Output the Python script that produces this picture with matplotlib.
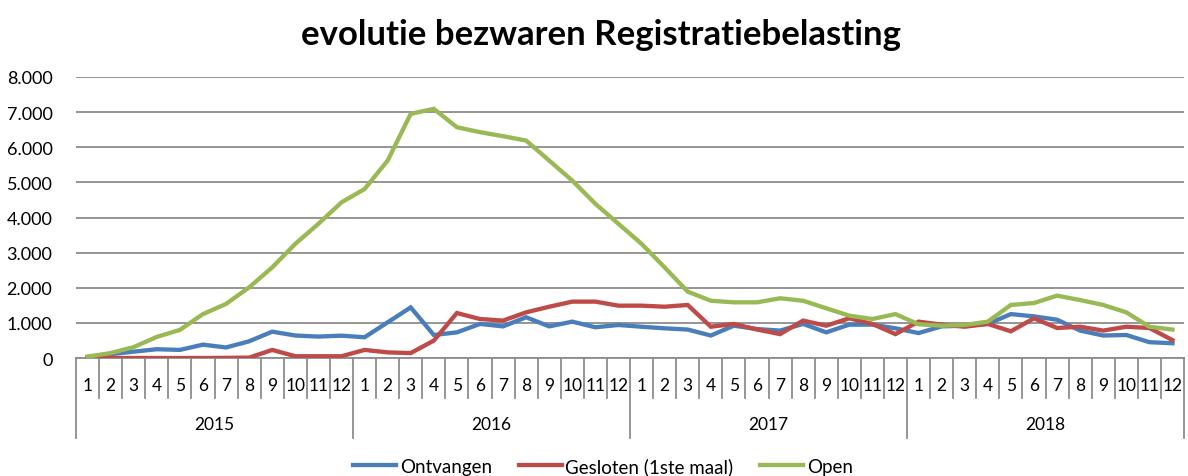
import matplotlib
matplotlib.use("Agg")
import matplotlib.pyplot as plt
import matplotlib.transforms as mtransforms
from matplotlib.ticker import FuncFormatter, MultipleLocator

plt.rcParams['font.family'] = ['Lato', 'DejaVu Sans']

years = ["2015", "2016", "2017", "2018"]
months = [str(m) for m in range(1, 13)]

ontvangen = [20, 110, 180, 250, 230, 380, 300, 475, 750, 640, 610, 636,
             590, 1015, 1440, 655, 730, 970, 900, 1160, 900, 1035, 875, 940,
             890, 845, 810, 640, 920, 825, 780, 970, 730, 950, 950, 845,
             710, 900, 920, 970, 1250, 1185, 1090, 780, 640, 655, 450, 420]
gesloten = [0, 0, 0, 0, 0, 0, 5, 10, 230, 50, 50, 50,
            230, 160, 140, 495, 1280, 1110, 1065, 1300, 1460, 1605, 1605, 1490,
            1490, 1460, 1510, 890, 970, 810, 680, 1065, 920, 1130, 970, 680,
            1035, 950, 890, 970, 760, 1130, 855, 890, 780, 890, 855, 510]
open_ = [40, 140, 310, 600, 800, 1250, 1540, 2010, 2580, 3250, 3820, 4430,
         4810, 5620, 6950, 7094, 6570, 6430, 6315, 6190, 5620, 5050, 4390, 3820,
         3250, 2580, 1890, 1630, 1585, 1585, 1700, 1630, 1415, 1205, 1110, 1250,
         960, 920, 940, 1035, 1510, 1565, 1775, 1650, 1510, 1300, 890, 810]

series_names = ["Ontvangen", "Gesloten (1ste maal)", "Open"]
series_colors = ["#4A7EBB", "#BE4B48", "#98B954"]

W, H = 1188, 477
fig = plt.figure(figsize=(W / 100, H / 100), dpi=100)
ax = fig.add_axes([76 / W, 1 - 359 / H, (1184 - 76) / W, (359 - 78) / H])

n = len(years) * len(months)
xs = [i + 0.5 for i in range(n)]
for vals, name, col in zip([ontvangen, gesloten, open_], series_names, series_colors):
    ax.plot(xs, vals, color=col, lw=3.1, label=name, solid_joinstyle='miter', zorder=3)

ax.set_xlim(0, n)
ax.set_ylim(0, 8000)
ax.yaxis.set_major_locator(MultipleLocator(1000))
ax.yaxis.set_major_formatter(FuncFormatter(lambda v, p: f"{int(v):,}".replace(",", ".")))
ax.grid(axis='y', color='#8C8C8C', lw=1.3, zorder=1)
ax.tick_params(axis='y', length=0, pad=17, labelsize=13, labelcolor='#000000')
for s in ['top', 'right', 'left']:
    ax.spines[s].set_visible(False)
ax.spines['bottom'].set_color('#8C8C8C')
ax.spines['bottom'].set_linewidth(1.3)

# month labels on category axis
ax.set_xticks(xs)
ax.set_xticklabels(months * len(years), fontsize=12.5)
ax.tick_params(axis='x', length=0, pad=14)

trans = mtransforms.blended_transform_factory(ax.transData, ax.transAxes)
ah = 359 - 78
for b in range(n + 1):
    depth = 80 / ah if b % 12 == 0 else 40 / ah
    ax.plot([b, b], [0, -depth], transform=trans, color='#8C8C8C', lw=1.3, clip_on=False)
for k, yname in enumerate(years):
    ax.text(12 * k + 6, -66 / ah, yname, transform=trans, ha='center', va='center', fontsize=12.5)

fig.text(601 / W, 1 - 35 / H, "evolutie bezwaren Registratiebelasting", ha='center', va='center',
         fontsize=25, fontweight='bold')

fig.legend(loc='center', bbox_to_anchor=(603 / W, 1 - 467 / H), ncol=3, frameon=False,
           fontsize=13.5, handlelength=2.3, handletextpad=0.2, columnspacing=1.4)

fig.savefig("out.png", dpi=100)
